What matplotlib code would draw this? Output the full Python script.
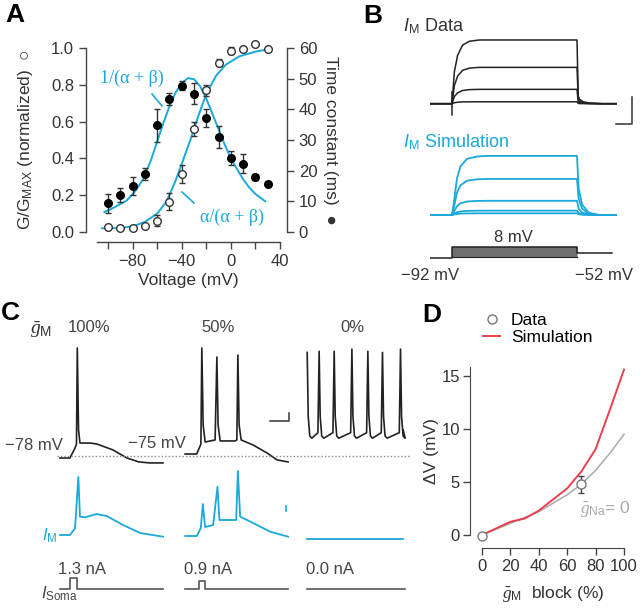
import numpy as np
import matplotlib
matplotlib.use('Agg')
import matplotlib.pyplot as plt
from matplotlib.lines import Line2D

plt.rcParams['font.family'] = ['Liberation Sans', 'DejaVu Sans']
plt.rcParams['mathtext.fontset'] = 'custom'
plt.rcParams['mathtext.rm'] = 'Liberation Sans'
plt.rcParams['mathtext.it'] = 'Liberation Serif:italic'
plt.rcParams['mathtext.sf'] = 'Liberation Sans:italic'
plt.rcParams['mathtext.bf'] = 'Liberation Sans:bold'

BLUE = '#1ba8da'
RED = '#e8404f'
DARK = '#333333'

# ---------------- Panel A data ----------------
volt = [-100, -90, -80, -70, -60, -50, -40, -30, -20, -10, 0, 10, 20, 30]
g_norm = [0.025, 0.02, 0.022, 0.033, 0.06, 0.165, 0.315, 0.56, 0.77, 0.92, 0.985, 0.995, 1.02, 0.996]
g_err = [0, 0, 0, 0.008, 0.03, 0.045, 0.05, 0.04, 0.03, 0.02, 0.02, 0.01, 0, 0]
tau = [9.3, 12, 15, 19, 34.8, 43.4, 47.7, 45.1, 37.2, 31.0, 24.1, 22.3, 17.8, 15.7]
tau_err = [3, 2.3, 3, 2, 5.3, 2, 1.5, 3.5, 3, 3.5, 2.3, 3, 1, 0.5]

# fitted curves
act_v = [-105, -90, -80, -70, -60, -52, -45, -40, -33, -26, -20, -12, -4, 7, 20, 28]
act_g = [0.02, 0.022, 0.03, 0.055, 0.1, 0.17, 0.28, 0.37, 0.5, 0.64, 0.75, 0.85, 0.91, 0.955, 0.98, 0.99]
tc_v = [-103, -95, -85, -78, -71, -65, -60, -55, -50, -45, -40, -35, -30, -25, -20,
        -15, -10, -5, 0, 5, 10, 15, 20, 28]
tc_ms = [6.5, 8, 10.2, 13.2, 17.5, 23.5, 29.5, 35.5, 41, 45.5, 48.5, 50.2, 49.8, 47.5, 43.5,
         38.5, 33.5, 28.5, 24, 20.5, 17.2, 14.5, 12.4, 10]

# ---------------- Panel B data ----------------
data_amp = [1.0, 0.57, 0.225, 0.03]
sim_amp = [1.0, 0.61, 0.24, 0.073, 0.028]
data_rise_t = [0, 19, 45, 85, 139, 219]
data_rise_f = [0, 0.5, 0.76, 0.92, 0.98, 1.0]
data_decay_t = [0, 10, 20, 50, 100, 200]
data_decay_f = [1, 0.12, 0.07, 0.03, 0.01, 0]
sim_rise_t = [0, 13, 40, 67, 120, 200, 280]
sim_rise_f = [0, 0.18, 0.62, 0.82, 0.95, 0.99, 1.0]
sim_decay_t = [0, 13, 40, 93, 173]
sim_decay_f = [1, 0.45, 0.18, 0.04, 0]
step_start, step_end = 0, 1000
trace_start, trace_end = -176, 1320
v_hold, v_after = -92, -52
v_steps = [-84, -76, -68, -60, -52, -44, -36, -28, -20, -12, -4]

# ---------------- Panel C data ----------------
col_offset = [0, 1215, 2400]
col_label = ['100%', '50%', '0%']
inj_label = ['1.3 nA', '0.9 nA', '0.0 nA']
inj_amp = [1.3, 0.9, 0.0]
inj_on = [97, 132, 0]
inj_off = [165, 190, 0]
col_len = [1000, 1000, 950]

v100_t = [0, 97, 146, 160, 168, 180, 194, 291, 359, 437, 515, 583, 650, 767, 874, 1000]
v100_v = [-78, -78, -68.9, -65.3, 22, -52.5, -64.4, -64.4, -65.3, -68, -70.7, -74.4, -78, -81.6, -82.5, -82.5]
v50_t = [0, 112, 141, 153, 162, 175, 194, 243, 291, 308, 320, 340, 485, 502, 512, 524, 544,
         660, 796, 893, 1000]
v50_v = [-74.4, -74.4, -68, -65.3, 22, -48, -63.5, -62.5, -61.6, 13.8, -48, -62.5, -62.5, -61.6,
         15.6, -48, -61.6, -66.2, -73.5, -79.8, -81.6]
v0_spike_t = [0, 116, 262, 434, 589, 731, 906]
v0_peak = [18, 19, 19, 21, 19, 18, 21]
v0_trough = -60
v0_prespike = -55
v0_end = (932, -52.5)

im100_t = [0, 97, 146, 178, 194, 243, 356, 453, 612, 777, 1000]
im100_v = [4, 4, 10.7, 62, 22.3, 21.7, 25, 23, 14, 6, 2.3]
im50_t = [0, 114, 152, 172, 194, 272, 314, 333, 495, 512, 534, 660, 825, 1000]
im50_v = [3, 3, 11, 35, 12, 14, 52.3, 19, 19, 68, 22.3, 16, 7.3, 2.3]
im0_t = [0, 930]
im0_v = [0, 0]

# ---------------- Panel D data ----------------
block = [0, 20, 30, 40, 60, 70, 80, 90, 100]
sim_dv = [0, 1.25, 1.55, 2.3, 4.4, 6.0, 8.1, 11.8, 15.6]
nona_block = [0, 20, 40, 60, 70, 80, 90, 100]
nona_dv = [0, 1.1, 2.2, 3.8, 4.8, 6.1, 7.7, 9.5]
exp_block = [0, 70]
exp_dv = [-0.05, 4.8]
exp_err = [0, 0.8]

W, H = 640, 608
fig = plt.figure(figsize=(W / 100, H / 100), dpi=100)


def px_axes(x0, y0, x1, y1):
    return fig.add_axes([x0 / W, 1 - y1 / H, (x1 - x0) / W, (y1 - y0) / H])


def ftext(x, y, s, **kw):
    kw.setdefault('fontsize', 12)
    kw.setdefault('color', DARK)
    return fig.text(x / W, 1 - y / H, s, **kw)


def fline(x0, y0, x1, y1, **kw):
    fig.add_artist(Line2D([x0 / W, x1 / W], [1 - y0 / H, 1 - y1 / H],
                          transform=fig.transFigure, **kw))


def style_ticks(ax):
    ax.tick_params(direction='out', length=5, width=1, color='#444', labelcolor=DARK,
                   labelsize=12, which='both')


# ================= Panel A =================
axA = px_axes(97, 48, 280, 232)
axA.set_xlim(-109, 40)
axA.set_ylim(0, 1)
axA2 = axA.twinx()
axA2.set_ylim(0, 60)
for a in (axA, axA2):
    a.spines['top'].set_visible(False)
    for s in a.spines.values():
        s.set_color('#444')
        s.set_linewidth(1)
axA.spines['right'].set_visible(False)
axA2.spines['left'].set_visible(False)
axA2.spines['bottom'].set_visible(False)
axA.spines['left'].set_position(('outward', 8))
axA.spines['bottom'].set_position(('outward', 7))
axA2.spines['right'].set_position(('outward', 5))
axA.set_xticks([-80, -40, 0, 40])
axA.set_xticks([-100, -60, -20, 20], minor=True)
axA.set_xticklabels(['\u221280', '\u221240', '0', '40'])
axA.set_yticks(np.arange(0, 1.01, 0.2))
axA.set_yticklabels(['0.0', '0.2', '0.4', '0.6', '0.8', '1.0'])
axA2.set_yticks(range(0, 61, 10))
style_ticks(axA)
style_ticks(axA2)
axA.set_xlabel('Voltage (mV)', fontsize=12.5, color=DARK, labelpad=3)
axA.set_ylabel(r'G/G$_{\rm MAX}$ (normalized)  ' + '\u25cb', fontsize=12.5, color=DARK)
axA.yaxis.set_label_coords(-0.34, 0.5)
axA2.set_ylabel('Time constant (ms)  \u25cf', fontsize=12.5, color=DARK, rotation=270, va='center')
axA2.yaxis.set_label_coords(1.275, 0.5)

axA.plot(act_v, act_g, color=BLUE, lw=1.4, zorder=2, clip_on=False)
axA2.plot(tc_v, tc_ms, color=BLUE, lw=1.4, zorder=2, clip_on=False)
axA.errorbar(volt, g_norm, yerr=g_err, fmt='o', ms=5.5, mfc='white', mec='#333', mew=1,
             ecolor='#333', elinewidth=1, capsize=2.5, zorder=4, clip_on=False)
axA2.errorbar(volt, tau, yerr=tau_err, fmt='o', ms=5.5, mfc='black', mec='black',
              ecolor='#333', elinewidth=1, capsize=2.5, zorder=4, clip_on=False)
axA.set_zorder(axA2.get_zorder() + 1)
axA.patch.set_visible(False)

ftext(100, 78, '1/(\u03b1 + \u03b2)', color=BLUE, family='Liberation Serif', fontsize=13, va='center')
fline(152, 94, 162, 106, color=BLUE, lw=1.2)
ftext(200, 217, '\u03b1/(\u03b1 + \u03b2)', color=BLUE, family='Liberation Serif', fontsize=13, va='center')
fline(182, 192, 194, 203, color=BLUE, lw=1.2)

# ================= Panel B =================
def build(amp, rise_t, rise_f, decay_t, decay_f):
    t = [trace_start, step_start] + [step_start + r for r in rise_t[1:]] + [step_end] \
        + [step_end + d for d in decay_t[1:]] + [trace_end]
    f = [0, 0] + rise_f[1:] + [1] + decay_f[1:] + [0]
    return np.array(t), amp * np.array(f)


axB1 = px_axes(430, 35, 617, 120)
axB1.set_xlim(trace_start, trace_end)
axB1.set_ylim(-0.256, 1.078)
axB1.axis('off')
for a in data_amp:
    t, y = build(a, data_rise_t, data_rise_f, data_decay_t, data_decay_f)
    axB1.plot(t, y, color='#222', lw=1.1)
axB1.plot([step_start, step_start], [-0.18, 0.19], color='#222', lw=1.1)
axB1.plot([1312, 1440, 1440], [-0.32, -0.32, 0.105], color='#333', lw=1.1, clip_on=False)

axB2 = px_axes(430, 150, 617, 222)
axB2.set_xlim(trace_start, trace_end)
axB2.set_ylim(-0.119, 1.10)
axB2.axis('off')
for a in sim_amp:
    t, y = build(a, sim_rise_t, sim_rise_f, sim_decay_t, sim_decay_f)
    axB2.plot(t, y, color=BLUE, lw=1.3)

axB3 = px_axes(430, 238, 617, 262)
axB3.set_xlim(trace_start, trace_end)
axB3.set_ylim(-124, 68)
axB3.axis('off')
axB3.fill_between([step_start, step_end], min(v_steps), max(v_steps), color='#888', lw=0)
for v in v_steps:
    axB3.plot([step_start, step_end], [v, v], color='#666', lw=0.5)
axB3.plot([trace_start, step_start, step_start, step_end, step_end, trace_end - 40],
          [v_hold, v_hold, max(v_steps), max(v_steps), v_after, v_after], color='#222', lw=1.1)
axB3.plot([step_start, step_end], [min(v_steps), min(v_steps)], color='#222', lw=0.8)

ftext(403, 26, r'$\mathsf{I}_{\rm M}$ Data', fontsize=13, va='center')
ftext(403, 142, r'$\mathsf{I}_{\rm M}$ Simulation', fontsize=13, va='center', color=BLUE)
ftext(513, 237, '8 mV', ha='center', va='center')
ftext(430, 276, '\u221292 mV', ha='center', va='center')
ftext(604, 276, '\u221252 mV', ha='center', va='center')

# ================= Panel C =================
axC1 = px_axes(55, 340, 412, 468)
axC1.set_xlim(-48.5, 3417.5)
axC1.set_ylim(-87.1, 29.3)
axC1.axis('off')
axC1.plot(np.array(v100_t) + col_offset[0], v100_v, color='#222', lw=1.2)
axC1.plot(np.array(v50_t) + col_offset[1], v50_v, color='#222', lw=1.2)
t0, v0 = [], []
for i, ts in enumerate(v0_spike_t):
    if i > 0:
        t0 += [ts - 12]
        v0 += [v0_prespike]
    t0 += [ts, ts + 10, ts + 25, ts + 45]
    v0 += [v0_peak[i], -40, v0_trough + 2, v0_trough]
t0 += [v0_end[0]]
v0 += [v0_end[1]]
axC1.plot(np.array(t0) + col_offset[2], v0, color='#222', lw=1.2)
axC1.axhline(-76.2, xmin=0.005, xmax=0.995, color='#888', lw=1, ls=(0, (1, 1.5)))
axC1.plot([2039, 2223, 2223], [-44.4, -44.4, -37.1], color='#333', lw=1.1)

axC2 = px_axes(55, 465, 412, 545)
axC2.set_xlim(-48.5, 3417.5)
axC2.set_ylim(-6, 74)
axC2.axis('off')
axC2.plot(np.array(im100_t) + col_offset[0], im100_v, color=BLUE, lw=1.3)
axC2.plot(np.array(im50_t) + col_offset[1], im50_v, color=BLUE, lw=1.3)
axC2.plot(np.array(im0_t) + col_offset[2], im0_v, color=BLUE, lw=1.3)
axC2.plot([2194, 2194], [28, 33], color=BLUE, lw=1.2)

axC3 = px_axes(55, 570, 412, 596)
axC3.set_xlim(-48.5, 3417.5)
axC3.set_ylim(-0.83, 2.25)
axC3.axis('off')
for i in range(3):
    if inj_amp[i] > 0:
        t = [0, inj_on[i], inj_on[i], inj_off[i], inj_off[i], col_len[i]]
        y = [0, 0, inj_amp[i], inj_amp[i], 0, 0]
    else:
        t = [0, col_len[i]]
        y = [0, 0]
    axC3.plot(np.array(t) + col_offset[i], y, color='#555', lw=1.2)

ftext(30, 330, r'$\bar{g}_{\rm M}$', fontsize=14, va='center')
for x, s in zip([89, 218, 352], col_label):
    ftext(x, 328, s, ha='center', va='center', color='#444')
for x, s in zip([82, 208, 330], inj_label):
    ftext(x, 569, s, ha='center', va='center', color='#444')
ftext(5, 446, '\u221278 mV', va='center', color='#444')
ftext(128, 443, '\u221275 mV', va='center', color='#444')
ftext(42, 536, r'$\mathsf{I}_{\rm M}$', va='center', color=BLUE)
ftext(41, 594, r'$\mathsf{I}_{\rm Soma}$', va='center', color='#444')

# ================= Panel D =================
axD = px_axes(482, 367, 624, 535)
axD.set_xlim(0, 100)
axD.set_ylim(0, 15.85)
axD.spines['top'].set_visible(False)
axD.spines['right'].set_visible(False)
for s in axD.spines.values():
    s.set_color('#444')
axD.spines['left'].set_position(('outward', 9))
axD.spines['bottom'].set_position(('outward', 9))
axD.set_xticks(range(0, 101, 20))
axD.set_yticks([0, 5, 10, 15])
style_ticks(axD)
axD.tick_params(axis='y', pad=2)
axD.set_ylabel('\u0394V (mV)', fontsize=12.5, color=DARK)
axD.yaxis.set_label_coords(-0.305, 0.5)
axD.plot(nona_block, nona_dv, color='#aaaaaa', lw=1.1, clip_on=False)
axD.plot(block, sim_dv, color=RED, lw=1.4, clip_on=False, label='Simulation')
axD.errorbar(exp_block, exp_dv, yerr=exp_err, fmt='none', ecolor='#444', elinewidth=1,
             capsize=2.5, clip_on=False, zorder=4)
axD.plot(exp_block, exp_dv, 'o', ms=6.5, mfc='white', mec='#777', mew=1, clip_on=False,
         zorder=5, label='Data')
h, l = axD.get_legend_handles_labels()
axD.legend(h[::-1], l[::-1], loc='upper left', bbox_to_anchor=(483 / W, 1 - 313 / H),
           bbox_transform=fig.transFigure, frameon=False, fontsize=12.5, handlelength=1.0,
           handletextpad=0.6, borderpad=0, borderaxespad=0, labelspacing=0.1)
ftext(553, 594, r'$\bar{g}_{\rm M}$  block (%)', ha='center', va='center', fontsize=12.5)
ftext(580, 509, r'$\bar{g}_{\rm Na}$= 0', va='center', fontsize=12.5, color='#aaaaaa')

# panel letters
for x, y, s in [(5, 15, 'A'), (363, 16, 'B'), (1, 313, 'C'), (422, 315, 'D')]:
    ftext(x, y, s, fontsize=19, fontweight='bold', color='black', va='center')

fig.savefig('out.png', dpi=100)
